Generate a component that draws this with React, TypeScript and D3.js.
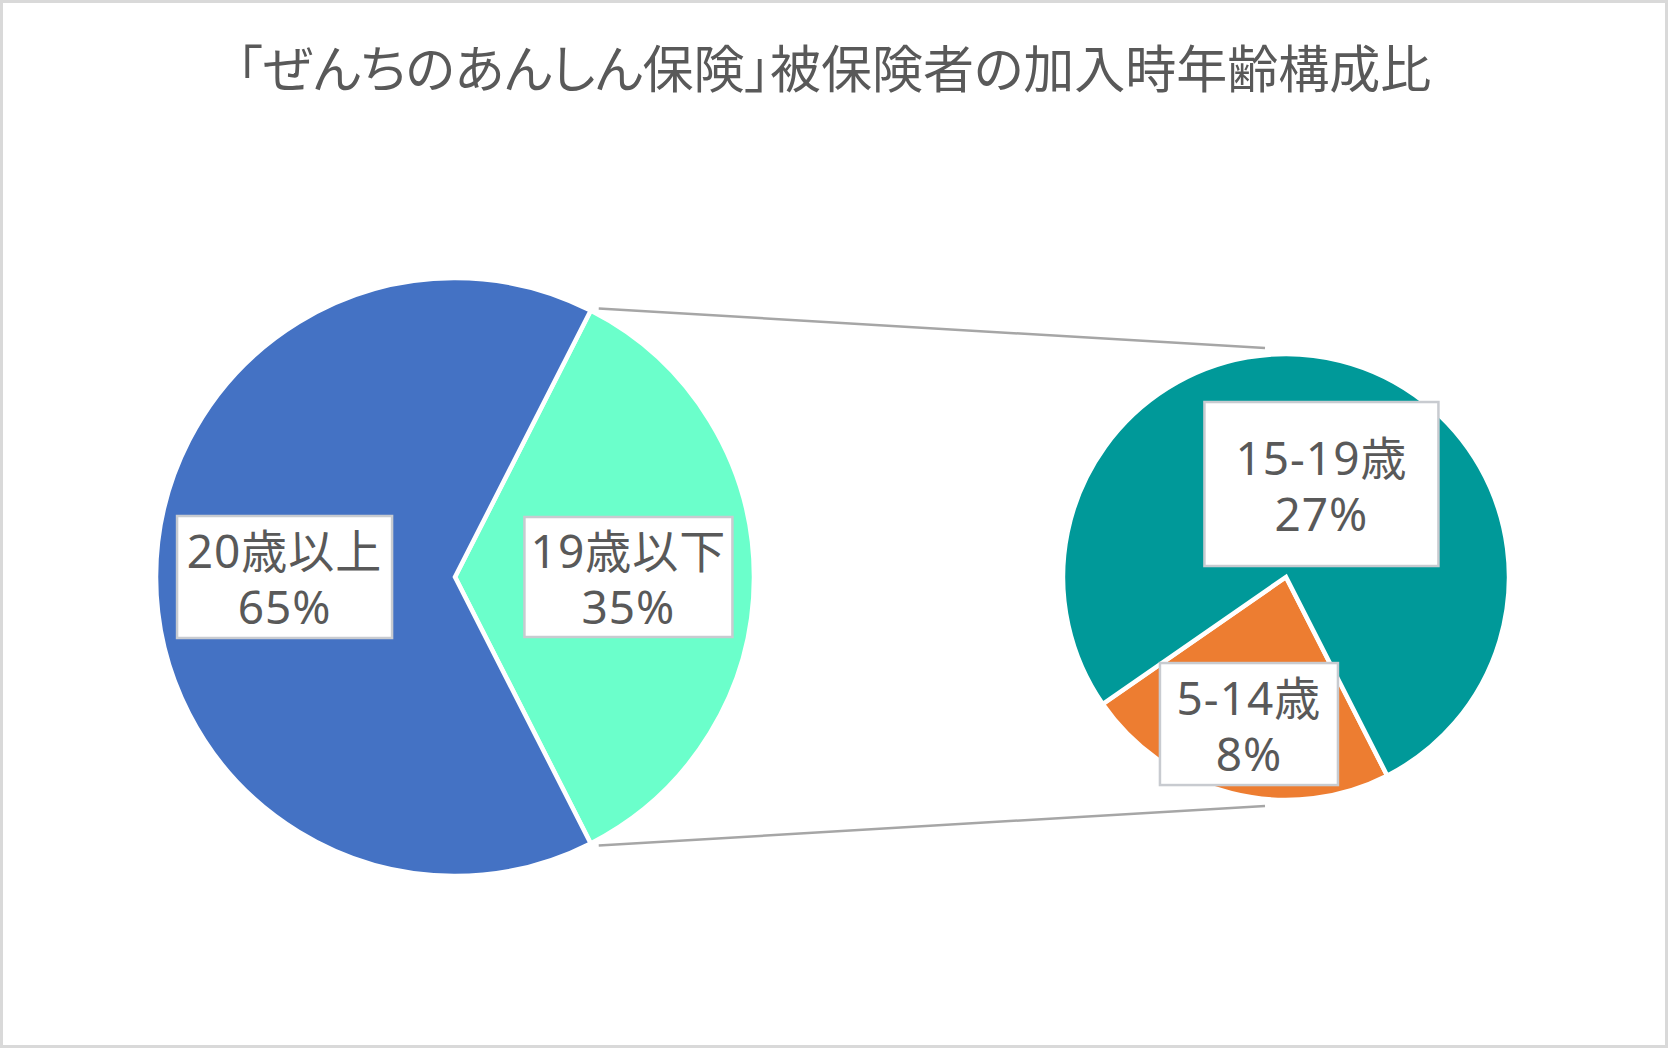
import React from "react";
import * as d3 from "d3";

// 「ぜんちのあんしん保険」被保険者の加入時年齢構成比
const title = "「ぜんちのあんしん保険」被保険者の加入時年齢構成比";

const mainLabels = ["19歳以下", "20歳以上"];
const mainValues = [35, 65];
const mainColors = ["#6BFFCB", "#4472C4"];

const subLabels = ["5-14歳", "15-19歳"];
const subValues = [8, 27];
const subColors = ["#ED7D31", "#009999"];

const W = 1668;
const H = 1048;
const mainPie = { cx: 455, cy: 577, r: 299 };
const subPie = { cx: 1286, cy: 577, r: 223 };

// label box sizes, how far out from the centre they sit, and a nudge
const mainBoxes = [
  { w: 208, h: 120, k: 0.58, dx: 0 },
  { w: 215, h: 122, k: 0.57, dx: 0 },
];
const subBoxes = [
  { w: 178, h: 122, k: 0.68, dx: 0 },
  { w: 234, h: 164, k: 0.43, dx: 12 },
];

const textColor = "#595959";
const font = "'Noto Sans', 'Noto Sans CJK JP', sans-serif";

function polar(cx: number, cy: number, r: number, a: number): [number, number] {
  return [cx + r * Math.sin(a), cy - r * Math.cos(a)];
}

function Label({ x, y, w, h, name, pct }: any) {
  return (
    <g>
      <rect
        x={x - w / 2}
        y={y - h / 2}
        width={w}
        height={h}
        fill="#fff"
        stroke="#c8cbd0"
        strokeWidth={2.5}
      />
      <text
        x={x}
        y={y - 25}
        textAnchor="middle"
        fontSize={46}
        fill={textColor}
        fontFamily={font}
        letterSpacing={1}
        style={{ fontFeatureSettings: "'palt'" }}
      >
        <tspan x={x} dy="0.35em">
          {name}
        </tspan>
        <tspan x={x} dy={56}>
          {pct}
        </tspan>
      </text>
    </g>
  );
}

export default function App() {
  // the small slice of the main pie is centred on 3 o'clock
  const share = mainValues[0] / d3.sum(mainValues);
  const start = Math.PI / 2 - share * Math.PI;
  const mainArcs = d3
    .pie<number>()
    .sort(null)
    .startAngle(start)
    .endAngle(start + 2 * Math.PI)(mainValues);

  // the sub pie starts where the main slice ends
  const subStart = mainArcs[0].endAngle;
  const subArcs = d3
    .pie<number>()
    .sort(null)
    .startAngle(subStart)
    .endAngle(subStart + 2 * Math.PI)(subValues);

  const arcMain = d3.arc<d3.PieArcDatum<number>>().innerRadius(0).outerRadius(mainPie.r);
  const arcSub = d3.arc<d3.PieArcDatum<number>>().innerRadius(0).outerRadius(subPie.r);

  const [tx, ty] = polar(mainPie.cx, mainPie.cy, mainPie.r, mainArcs[0].startAngle);
  const [bx, by] = polar(mainPie.cx, mainPie.cy, mainPie.r, mainArcs[0].endAngle);

  return (
    <div style={{ position: "absolute", left: 0, top: 0 }}>
      <style>{`body{margin:0}`}</style>
      <svg width={W} height={H} style={{ display: "block" }}>
        <rect x={1.5} y={1.5} width={W - 3} height={H - 3} fill="#fff" stroke="#d9d9d9" strokeWidth={3} />
        <text
          x={W / 2}
          y={66}
          textAnchor="middle"
          dominantBaseline="central"
          fontSize={51}
          fill={textColor}
          fontFamily="'Noto Sans CJK JP', sans-serif"
          style={{ fontFeatureSettings: "'palt'" }}
        >
          {title}
        </text>

        {/* connector lines */}
        <line
          x1={tx + 8}
          y1={ty - 2}
          x2={subPie.cx - 21}
          y2={subPie.cy - subPie.r - 6}
          stroke="#a6a6a6"
          strokeWidth={2.5}
        />
        <line
          x1={bx + 8}
          y1={by + 2}
          x2={subPie.cx - 21}
          y2={subPie.cy + subPie.r + 6}
          stroke="#a6a6a6"
          strokeWidth={2.5}
        />

        <g transform={`translate(${mainPie.cx},${mainPie.cy})`}>
          {mainArcs.map((a, i) => (
            <path key={i} d={arcMain(a) || ""} fill={mainColors[i]} stroke="#fff" strokeWidth={4.5} />
          ))}
        </g>
        <g transform={`translate(${subPie.cx},${subPie.cy})`}>
          {subArcs.map((a, i) => (
            <path key={i} d={arcSub(a) || ""} fill={subColors[i]} stroke="#fff" strokeWidth={4.5} />
          ))}
        </g>

        {mainArcs.map((a, i) => {
          const mid = (a.startAngle + a.endAngle) / 2;
          const [x, y] = polar(mainPie.cx, mainPie.cy, mainPie.r * mainBoxes[i].k, mid);
          return (
            <Label
              key={i}
              x={x + mainBoxes[i].dx}
              y={y}
              w={mainBoxes[i].w}
              h={mainBoxes[i].h}
              name={mainLabels[i]}
              pct={`${mainValues[i]}%`}
            />
          );
        })}
        {subArcs.map((a, i) => {
          const mid = (a.startAngle + a.endAngle) / 2;
          const [x, y] = polar(subPie.cx, subPie.cy, subPie.r * subBoxes[i].k, mid);
          return (
            <Label
              key={i}
              x={x + subBoxes[i].dx}
              y={y}
              w={subBoxes[i].w}
              h={subBoxes[i].h}
              name={subLabels[i]}
              pct={`${subValues[i]}%`}
            />
          );
        })}
      </svg>
    </div>
  );
}
